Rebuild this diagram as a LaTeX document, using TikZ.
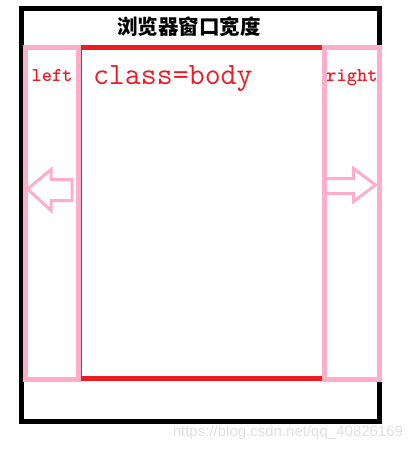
\documentclass[tikz,border=0pt]{standalone}
\usepackage{fontspec}
\newfontfamily\cjk{Noto Sans CJK SC}
\newfontfamily\wmfont{Liberation Sans}
\newfontfamily\lblfont{lmmonolt10-bold.otf}
\usetikzlibrary{positioning}
\definecolor{paintred}{HTML}{ED1C24}
\definecolor{paintpink}{HTML}{FFAEC9}

\begin{document}
\begin{tikzpicture}[x=1pt, y=-1pt, inner sep=0pt, outer sep=0pt]
	\tikzstyle{window}=[rectangle, draw=black, line width=5pt]
	\tikzstyle{body}=[rectangle, draw=paintred, line width=1pt]
	\tikzstyle{column}=[rectangle, draw=paintpink, line width=5pt]
	\tikzstyle{hollow}=[draw=paintpink, line width=3pt, line join=miter]
	\tikzstyle{side}=[text=paintred, font=\lblfont\fontsize{19.5}{21}\selectfont]
	
	\useasboundingbox (0,0) rectangle (413,450);
	
	\node[window, minimum width=358pt, minimum height=412.5pt] (win) at (200.5,214.75) {};
	\node[anchor=center, font=\cjk\bfseries\fontsize{20.5}{22}\selectfont] (title) at (189,27) {浏览器窗口宽度};
	
	\node[body, minimum width=243pt, minimum height=331pt] (page) at (202.5,213) {};
	\draw[paintred, line width=5pt] (page.north west) -- (page.north east);
	\draw[paintred, line width=5pt] (page.south west) -- (page.south east);
	\node[anchor=base west, text=paintred, font=\ttfamily\fontsize{31}{33}\selectfont] (cls) at (93,84) {class=body};
	
	\node[column, minimum width=53pt, minimum height=332pt] (leftcol) at (52,213.5) {};
	\node[column, minimum width=55pt, minimum height=332pt] (rightcol) at (352,213.5) {};
	
	\node[side, anchor=base] (lefttxt) at (leftcol.center |- 0,81.5) {left};
	\node[side, anchor=base] (righttxt) at (rightcol.center |- 0,81.5) {right};
	
	% hollow arrows
	\draw[hollow] (27.5,189) -- (51,169.5) -- (51,179.5) -- (72,179.5) -- (72,200.5) -- (51,200.5) -- (51,210.5) -- cycle;
	\draw[hollow] (327,178.5) -- (353.5,178.5) -- (353.5,168.5) -- (375.5,185) -- (353.5,201.5) -- (353.5,193.5) -- (327,193.5);
	
	\node[anchor=base east, text=black!12, font=\wmfont\fontsize{15}{17}\selectfont] (mark) at (403,436) {https://blog.csdn.net/qq\_40826169};
	
\end{tikzpicture}
\end{document}
